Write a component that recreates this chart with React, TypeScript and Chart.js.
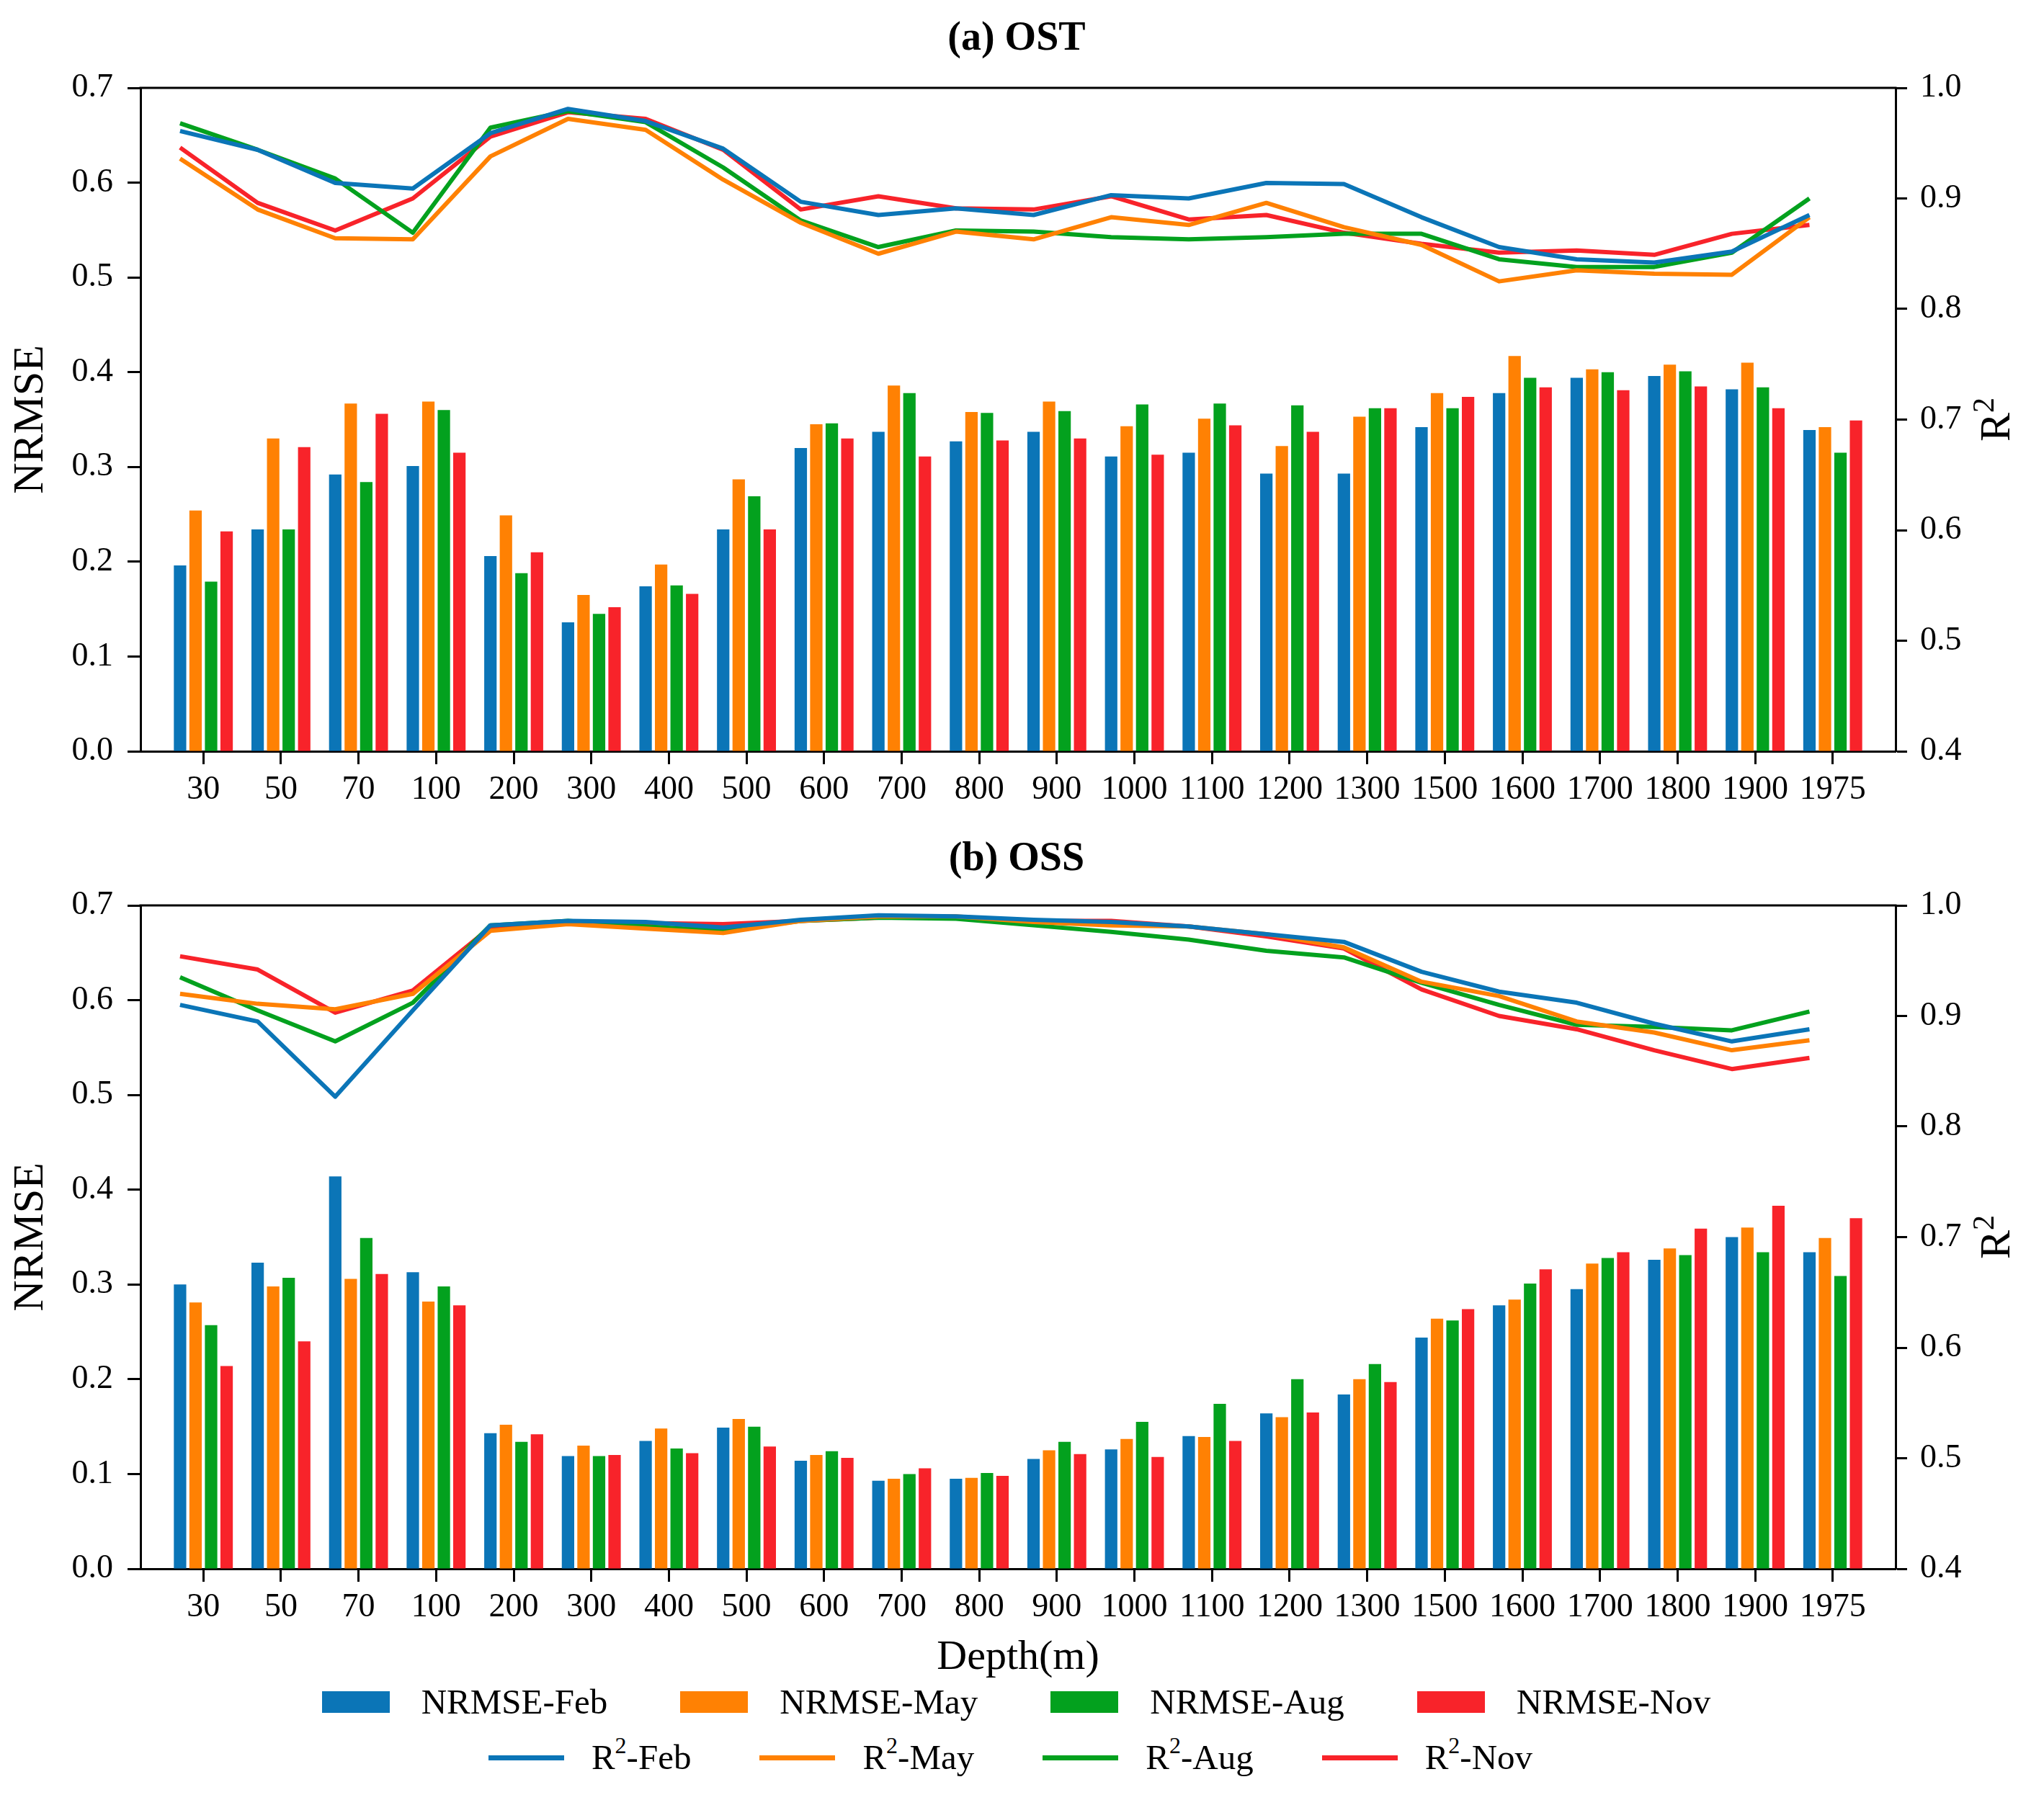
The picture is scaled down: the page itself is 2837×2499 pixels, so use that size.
import React, { useEffect, useRef } from "react";
import Chart from "chart.js/auto";

// depth levels on the x axis
const depths = ["30", "50", "70", "100", "200", "300", "400", "500", "600", "700", "800", "900", "1000", "1100", "1200", "1300", "1500", "1600", "1700", "1800", "1900", "1975"];
const months = ["Feb", "May", "Aug", "Nov"];
const colors = ["#0b75b7", "#ff8103", "#03a11e", "#f8232a"];

// (a) OST
const ostNrmseFeb = [0.196, 0.234, 0.292, 0.301, 0.206, 0.136, 0.174, 0.234, 0.320, 0.337, 0.327, 0.337, 0.311, 0.315, 0.293, 0.293, 0.342, 0.378, 0.394, 0.396, 0.382, 0.339];
const ostNrmseMay = [0.254, 0.330, 0.367, 0.369, 0.249, 0.165, 0.197, 0.287, 0.345, 0.386, 0.358, 0.369, 0.343, 0.351, 0.322, 0.353, 0.378, 0.417, 0.403, 0.408, 0.410, 0.342];
const ostNrmseAug = [0.179, 0.234, 0.284, 0.360, 0.188, 0.145, 0.175, 0.269, 0.346, 0.378, 0.357, 0.359, 0.366, 0.367, 0.365, 0.362, 0.362, 0.394, 0.400, 0.401, 0.384, 0.315];
const ostNrmseNov = [0.232, 0.321, 0.356, 0.315, 0.210, 0.152, 0.166, 0.234, 0.330, 0.311, 0.328, 0.330, 0.313, 0.344, 0.337, 0.362, 0.374, 0.384, 0.381, 0.385, 0.362, 0.349];
const ostR2Feb = [0.961, 0.944, 0.914, 0.909, 0.959, 0.981, 0.970, 0.945, 0.897, 0.885, 0.891, 0.885, 0.903, 0.900, 0.914, 0.913, 0.883, 0.856, 0.845, 0.842, 0.852, 0.885];
const ostR2May = [0.936, 0.890, 0.864, 0.863, 0.938, 0.972, 0.962, 0.917, 0.878, 0.850, 0.870, 0.863, 0.883, 0.876, 0.896, 0.874, 0.858, 0.825, 0.835, 0.832, 0.831, 0.883];
const ostR2Aug = [0.968, 0.944, 0.918, 0.869, 0.964, 0.979, 0.969, 0.928, 0.880, 0.856, 0.871, 0.870, 0.865, 0.863, 0.865, 0.868, 0.868, 0.845, 0.838, 0.838, 0.851, 0.900];
const ostR2Nov = [0.946, 0.896, 0.871, 0.900, 0.956, 0.978, 0.972, 0.944, 0.890, 0.902, 0.891, 0.890, 0.902, 0.881, 0.885, 0.869, 0.859, 0.851, 0.853, 0.849, 0.868, 0.876];

// (b) OSS
const ossNrmseFeb = [0.300, 0.323, 0.414, 0.313, 0.143, 0.119, 0.135, 0.149, 0.114, 0.093, 0.095, 0.116, 0.126, 0.140, 0.164, 0.184, 0.244, 0.278, 0.295, 0.326, 0.350, 0.334];
const ossNrmseMay = [0.281, 0.298, 0.306, 0.282, 0.152, 0.130, 0.148, 0.158, 0.120, 0.095, 0.096, 0.125, 0.137, 0.139, 0.160, 0.200, 0.264, 0.284, 0.322, 0.338, 0.360, 0.349];
const ossNrmseAug = [0.257, 0.307, 0.349, 0.298, 0.134, 0.119, 0.127, 0.150, 0.124, 0.100, 0.101, 0.134, 0.155, 0.174, 0.200, 0.216, 0.262, 0.301, 0.328, 0.331, 0.334, 0.309];
const ossNrmseNov = [0.214, 0.240, 0.311, 0.278, 0.142, 0.120, 0.122, 0.129, 0.117, 0.106, 0.098, 0.121, 0.118, 0.135, 0.165, 0.197, 0.274, 0.316, 0.334, 0.359, 0.383, 0.370];
const ossR2Feb = [0.910, 0.895, 0.827, 0.905, 0.982, 0.986, 0.985, 0.980, 0.987, 0.991, 0.990, 0.987, 0.985, 0.981, 0.974, 0.967, 0.940, 0.922, 0.912, 0.893, 0.877, 0.888];
const ossR2May = [0.920, 0.911, 0.906, 0.920, 0.977, 0.983, 0.979, 0.975, 0.986, 0.990, 0.990, 0.985, 0.982, 0.981, 0.974, 0.962, 0.931, 0.918, 0.895, 0.885, 0.869, 0.878];
const ossR2Aug = [0.935, 0.905, 0.877, 0.912, 0.982, 0.986, 0.981, 0.977, 0.986, 0.989, 0.988, 0.982, 0.976, 0.969, 0.959, 0.953, 0.930, 0.910, 0.892, 0.890, 0.887, 0.904];
const ossR2Nov = [0.954, 0.942, 0.903, 0.923, 0.980, 0.985, 0.984, 0.983, 0.986, 0.989, 0.989, 0.986, 0.986, 0.981, 0.972, 0.961, 0.924, 0.900, 0.888, 0.869, 0.852, 0.862];

const FONT = "'Liberation Serif', 'Times New Roman', serif";
const PAGE_W = 2837;
const PLOT_LEFT = 195;
const PLOT_RIGHT = 2631;

Chart.defaults.font.family = FONT;
Chart.defaults.color = "#000";

interface PanelProps {
  title: string;
  nrmse: number[][];
  r2: number[][];
  top: number;
  height: number;
  plotTop: number;
  plotBottom: number;
  titleY: number;
  xTitle?: string;
}

const Panel: React.FC<PanelProps> = ({ title, nrmse, r2, top, height, plotTop, plotBottom, titleY, xTitle }) => {
  const chartRef = useRef<HTMLCanvasElement>(null);

  useEffect(() => {
    if (!chartRef.current) return;
    const ctx = chartRef.current.getContext("2d");
    if (!ctx) return;

    // top spine, panel title and the right axis title (R², reading upwards)
    const decorations = {
      id: "decorations",
      afterDraw(chart: any) {
        const c = chart.ctx;
        const area = chart.chartArea;
        c.save();
        c.strokeStyle = "#000";
        c.lineWidth = 3;
        c.beginPath();
        c.moveTo(area.left - 1.5, area.top);
        c.lineTo(area.right + 1.5, area.top);
        c.stroke();

        c.fillStyle = "#000";
        c.font = `bold 56px ${FONT}`;
        c.textAlign = "center";
        c.textBaseline = "middle";
        c.fillText(title, 1411, titleY);

        c.translate(2767, (area.top + area.bottom) / 2);
        c.rotate(-Math.PI / 2);
        c.textAlign = "left";
        c.textBaseline = "alphabetic";
        c.font = `60px ${FONT}`;
        const rW = c.measureText("R").width;
        c.font = `42px ${FONT}`;
        const sW = c.measureText("2").width;
        const x0 = -(rW + sW) / 2;
        c.font = `60px ${FONT}`;
        c.fillText("R", x0, 22);
        c.font = `42px ${FONT}`;
        c.fillText("2", x0 + rW, 0);
        c.restore();
      },
    };

    const bars = months.map((m, k) => ({
      type: "bar" as const,
      label: `NRMSE-${m}`,
      data: nrmse[k].map((v, i) => ({ x: i, y: v })),
      backgroundColor: colors[k],
      yAxisID: "y",
      categoryPercentage: 0.8,
      barPercentage: 0.8,
      order: 2,
    }));

    // the lines sit on the first bar of each group
    const lines = months.map((m, k) => ({
      type: "line" as const,
      label: `R²-${m}`,
      data: r2[k].map((v, i) => ({ x: i - 0.3, y: v })),
      borderColor: colors[k],
      backgroundColor: colors[k],
      borderWidth: 6,
      borderJoinStyle: "round" as const,
      pointRadius: 0,
      tension: 0,
      yAxisID: "y1",
      order: 1,
    }));

    const grid = { drawOnChartArea: false, offset: false, tickWidth: 3, tickColor: "#000" };
    const border = { color: "#000", width: 3 };

    const myChart = new Chart(ctx, {
      type: "bar",
      data: { datasets: [...lines, ...bars] as any },
      plugins: [decorations],
      options: {
        responsive: false,
        animation: false,
        layout: { padding: { top: plotTop, left: 0, right: 0, bottom: 0 } },
        plugins: {
          legend: { display: false },
          tooltip: { enabled: false },
          title: { display: false },
        },
        scales: {
          x: {
            type: "linear",
            offset: false,
            min: -0.81,
            max: 21.81,
            afterBuildTicks: (s: any) => {
              s.ticks = depths.map((_, i) => ({ value: i }));
            },
            afterFit: (s: any) => {
              s.height = height - plotBottom;
            },
            ticks: {
              callback: (v: any) => depths[Math.round(Number(v))],
              autoSkip: false,
              maxRotation: 0,
              minRotation: 0,
              font: { family: FONT, size: 46 },
              color: "#000",
              padding: 8,
            },
            grid: { ...grid, tickLength: 18 },
            border,
            title: {
              display: !!xTitle,
              text: xTitle || "",
              font: { family: FONT, size: 58 },
              color: "#000",
              padding: { top: 0, bottom: 3 },
            },
          },
          y: {
            type: "linear",
            position: "left",
            min: 0,
            max: 0.7,
            afterFit: (s: any) => {
              s.width = PLOT_LEFT;
            },
            ticks: {
              stepSize: 0.1,
              callback: (v: any) => Number(v).toFixed(1),
              font: { family: FONT, size: 46 },
              color: "#000",
              padding: 20,
            },
            grid: { ...grid, tickLength: 18 },
            border,
            title: {
              display: true,
              text: "NRMSE",
              font: { family: FONT, size: 60 },
              color: "#000",
              padding: { top: 7, bottom: 0 },
            },
          },
          y1: {
            type: "linear",
            position: "right",
            min: 0.4,
            max: 1.0,
            afterFit: (s: any) => {
              s.width = PAGE_W - PLOT_RIGHT;
            },
            ticks: {
              stepSize: 0.1,
              callback: (v: any) => Number(v).toFixed(1),
              font: { family: FONT, size: 46 },
              color: "#000",
              padding: 18,
            },
            grid: { ...grid, tickLength: 16 },
            border,
          },
        },
      } as any,
    });

    return () => {
      myChart.destroy();
    };
  }, [title, nrmse, r2, height, plotTop, plotBottom, titleY, xTitle]);

  return (
    <canvas
      ref={chartRef}
      width={PAGE_W}
      height={height}
      style={{ position: "absolute", left: 0, top, width: PAGE_W, height }}
    />
  );
};

const rowStyle: React.CSSProperties = {
  position: "absolute",
  width: PAGE_W,
  height: 60,
  display: "flex",
  justifyContent: "center",
  alignItems: "center",
  fontFamily: FONT,
  fontSize: 49,
  lineHeight: "60px",
  color: "#000",
};

const Legend: React.FC = () => (
  <>
    <div style={{ ...rowStyle, left: -8, top: 2333, gap: 101 }}>
      {months.map((m, k) => (
        <div key={m} style={{ display: "flex", alignItems: "center" }}>
          <span style={{ display: "block", width: 94, height: 30, background: colors[k], marginRight: 44 }} />
          <span>NRMSE-{m}</span>
        </div>
      ))}
    </div>
    <div style={{ ...rowStyle, left: -16, top: 2410, gap: 95 }}>
      {months.map((m, k) => (
        <div key={m} style={{ display: "flex", alignItems: "center" }}>
          <span style={{ display: "block", width: 105, height: 7, background: colors[k], marginRight: 38 }} />
          <span>
            R<sup style={{ fontSize: 32, verticalAlign: "22px", lineHeight: 0 }}>2</sup>-{m}
          </span>
        </div>
      ))}
    </div>
  </>
);

const ostNrmse = [ostNrmseFeb, ostNrmseMay, ostNrmseAug, ostNrmseNov];
const ostR2 = [ostR2Feb, ostR2May, ostR2Aug, ostR2Nov];
const ossNrmse = [ossNrmseFeb, ossNrmseMay, ossNrmseAug, ossNrmseNov];
const ossR2 = [ossR2Feb, ossR2May, ossR2Aug, ossR2Nov];

export default function App() {
  return (
    <div style={{ position: "absolute", left: 0, top: 0, width: PAGE_W, height: 2499, background: "#fff", overflow: "hidden" }}>
      <Panel title="(a) OST" nrmse={ostNrmse} r2={ostR2} top={0} height={1150} plotTop={122} plotBottom={1043} titleY={55} />
      <Panel title="(b) OSS" nrmse={ossNrmse} r2={ossR2} top={1150} height={1190} plotTop={107} plotBottom={1028} titleY={44} xTitle="Depth(m)" />
      <Legend />
    </div>
  );
}
